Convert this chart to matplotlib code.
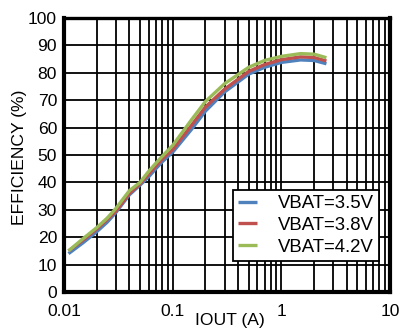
import matplotlib
matplotlib.use("Agg")
import matplotlib.pyplot as plt
from matplotlib.ticker import LogLocator, NullFormatter

iout = [0.011, 0.015, 0.02, 0.025, 0.03, 0.035, 0.04, 0.05, 0.06, 0.07, 0.08, 0.1,
        0.15, 0.2, 0.3, 0.5, 0.7, 1.0, 1.5, 2.0, 2.6]
eff_35 = [14, 18, 22, 25.5, 29, 32.5, 35.5, 39, 42, 45, 47.5, 51,
          59.5, 66, 73, 79.5, 82, 83.8, 84.7, 84.5, 83.3]
eff_38 = [15, 19, 23, 26.5, 29.5, 33, 36, 39.5, 43, 46, 48.5, 52,
          61, 67.5, 74, 80.5, 83, 84.8, 85.8, 85.6, 84.3]
eff_42 = [15, 19.5, 23.5, 27, 30.5, 34, 37, 40, 44, 47, 49.5, 53.5,
          63, 69.5, 76, 82, 84.5, 86, 87, 86.8, 85.5]
labels = ["VBAT=3.5V", "VBAT=3.8V", "VBAT=4.2V"]
colors = ["#4F81BD", "#C0504D", "#9BBB59"]
yticks = list(range(0, 101, 10))
xticks = [0.01, 0.1, 1, 10]
xticklabels = ["0.01", "0.1", "1", "10"]

plt.rcParams['font.family'] = ['Liberation Sans', 'DejaVu Sans']
fs = 12.6

fig = plt.figure(figsize=(4.02, 3.29), dpi=100)
ax = fig.add_axes([64/402, 37/329, 326/402, 274/329])

for y, lab, c in zip([eff_35, eff_38, eff_42], labels, colors):
    ax.plot(iout, y, color=c, lw=2.4, label=lab, solid_capstyle='butt')

ax.set_xscale('log')
ax.set_xlim(0.01, 10)
ax.set_ylim(0, 100)
ax.set_xticks(xticks)
ax.set_xticklabels(xticklabels)
ax.xaxis.set_minor_locator(LogLocator(base=10, subs=range(2, 10), numticks=20))
ax.xaxis.set_minor_formatter(NullFormatter())
ax.set_yticks(yticks)
ax.grid(True, which='major', color='black', lw=1.3)
ax.grid(True, which='minor', axis='x', color='black', lw=1.3)
ax.set_axisbelow(True)
ax.tick_params(which='both', length=0, labelsize=fs)
ax.tick_params(axis='y', pad=5)
ax.tick_params(axis='x', pad=9)
for s in ['left', 'bottom', 'right']:
    ax.spines[s].set_linewidth(3.0)
ax.spines['top'].set_linewidth(2.4)

ax.set_ylabel("EFFICIENCY (%)", fontsize=fs)
ax.yaxis.set_label_coords(-0.112, 0.49)
ax.set_xlabel("IOUT (A)", fontsize=fs, va='bottom')
ax.xaxis.set_label_coords(0.51, -36/274)

leg = ax.legend(loc='lower right', bbox_to_anchor=(379/402, 68/329),
                bbox_transform=fig.transFigure, fontsize=13.4, frameon=True,
                fancybox=False, edgecolor='black', framealpha=1,
                handlelength=1.05, handletextpad=1.1, labelspacing=0.26,
                borderpad=0.28, borderaxespad=0)
leg.get_frame().set_linewidth(1.3)

fig.savefig("out.png", dpi=100)
